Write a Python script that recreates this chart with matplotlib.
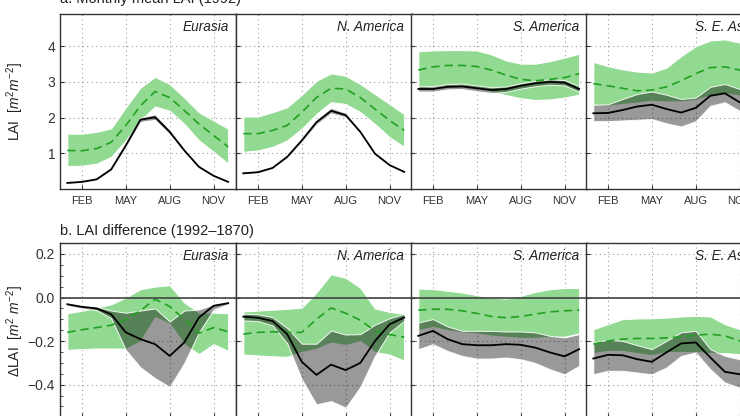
import matplotlib
matplotlib.use("Agg")
import matplotlib.pyplot as plt
import numpy as np

plt.rcParams['font.family'] = ['Liberation Sans', 'DejaVu Sans']
plt.rcParams['mathtext.fontset'] = 'custom'
plt.rcParams['mathtext.it'] = 'Liberation Sans:italic'
plt.rcParams['mathtext.rm'] = 'Liberation Sans'

months = [1, 2, 3, 4, 5, 6, 7, 8, 9, 10, 11, 12]
month_ticks = [2, 5, 8, 11]
month_labels = ["FEB", "MAY", "AUG", "NOV"]
regions = ["Eurasia", "N. America", "S. America", "S. E. Asia"]

# ---------- a. Monthly mean LAI (1992) ----------
a_eur_black = [0.17, 0.20, 0.27, 0.55, 1.22, 1.94, 2.01, 1.60, 1.08, 0.62, 0.37, 0.20]
a_eur_black_hi = [0.19, 0.22, 0.29, 0.58, 1.27, 2.00, 2.09, 1.67, 1.12, 0.65, 0.39, 0.22]
a_eur_black_lo = [0.15, 0.18, 0.25, 0.52, 1.17, 1.88, 1.94, 1.53, 1.04, 0.59, 0.35, 0.18]
a_eur_green = [1.08, 1.07, 1.13, 1.31, 1.78, 2.33, 2.73, 2.56, 2.20, 1.82, 1.50, 1.18]
a_eur_green_hi = [1.55, 1.55, 1.60, 1.70, 2.29, 2.84, 3.14, 2.94, 2.56, 2.15, 1.92, 1.69]
a_eur_green_lo = [0.64, 0.65, 0.71, 0.90, 1.36, 1.92, 2.31, 2.19, 1.82, 1.36, 1.04, 0.71]

a_nam_black = [0.44, 0.47, 0.59, 0.90, 1.36, 1.87, 2.19, 2.07, 1.60, 0.99, 0.67, 0.48]
a_nam_black_hi = [0.46, 0.49, 0.61, 0.93, 1.40, 1.93, 2.27, 2.13, 1.64, 1.02, 0.69, 0.50]
a_nam_black_lo = [0.42, 0.45, 0.57, 0.87, 1.32, 1.81, 2.12, 2.01, 1.56, 0.96, 0.65, 0.46]
a_nam_green = [1.55, 1.55, 1.64, 1.78, 2.15, 2.56, 2.82, 2.80, 2.56, 2.24, 1.92, 1.64]
a_nam_green_hi = [2.03, 2.03, 2.15, 2.29, 2.64, 3.03, 3.24, 3.17, 2.94, 2.66, 2.38, 2.10]
a_nam_green_lo = [1.04, 1.08, 1.18, 1.36, 1.69, 2.10, 2.43, 2.38, 2.15, 1.82, 1.45, 1.18]

a_sam_black = [2.80, 2.80, 2.86, 2.87, 2.82, 2.77, 2.80, 2.89, 2.96, 3.00, 2.98, 2.80]
a_sam_black_hi = [2.88, 2.88, 2.94, 2.95, 2.90, 2.85, 2.87, 2.96, 3.03, 3.07, 3.05, 2.88]
a_sam_black_lo = [2.73, 2.73, 2.79, 2.80, 2.74, 2.69, 2.72, 2.81, 2.88, 2.92, 2.90, 2.72]
a_sam_green = [3.33, 3.42, 3.46, 3.46, 3.43, 3.33, 3.19, 3.07, 3.03, 3.07, 3.12, 3.23]
a_sam_green_hi = [3.86, 3.88, 3.89, 3.89, 3.88, 3.77, 3.60, 3.51, 3.51, 3.58, 3.68, 3.79]
a_sam_green_lo = [2.82, 2.86, 2.89, 2.89, 2.82, 2.73, 2.63, 2.54, 2.49, 2.51, 2.56, 2.64]

a_sea_black = [2.12, 2.13, 2.21, 2.31, 2.36, 2.24, 2.14, 2.27, 2.61, 2.68, 2.43, 2.29]
a_sea_black_hi = [2.36, 2.37, 2.52, 2.66, 2.73, 2.64, 2.52, 2.56, 2.86, 2.94, 2.80, 2.70]
a_sea_black_lo = [1.90, 1.90, 1.92, 1.94, 1.96, 1.84, 1.75, 1.90, 2.33, 2.43, 2.19, 2.05]
a_sea_green = [2.95, 2.89, 2.82, 2.75, 2.77, 2.86, 3.03, 3.23, 3.40, 3.42, 3.33, 3.25]
a_sea_green_hi = [3.56, 3.44, 3.35, 3.29, 3.26, 3.40, 3.72, 4.00, 4.16, 4.19, 4.10, 3.98]
a_sea_green_lo = [2.36, 2.33, 2.38, 2.42, 2.47, 2.45, 2.45, 2.50, 2.62, 2.68, 2.62, 2.55]

# ---------- b. LAI difference (1992-1870) ----------
b_eur_black = [-0.031, -0.043, -0.050, -0.077, -0.160, -0.191, -0.214, -0.268, -0.206, -0.092, -0.038, -0.026]
b_eur_black_hi = [-0.025, -0.036, -0.042, -0.060, -0.070, -0.060, -0.050, -0.110, -0.060, -0.055, -0.032, -0.022]
b_eur_black_lo = [-0.037, -0.050, -0.058, -0.095, -0.240, -0.320, -0.370, -0.410, -0.300, -0.160, -0.055, -0.030]
b_eur_green = [-0.160, -0.148, -0.138, -0.127, -0.100, -0.060, -0.008, -0.041, -0.100, -0.164, -0.138, -0.157]
b_eur_green_hi = [-0.072, -0.061, -0.046, -0.031, 0.000, 0.038, 0.050, 0.057, -0.023, -0.069, -0.069, -0.072]
b_eur_green_lo = [-0.240, -0.237, -0.234, -0.234, -0.235, -0.200, -0.090, -0.120, -0.215, -0.260, -0.214, -0.245]

b_nam_black = [-0.088, -0.093, -0.108, -0.168, -0.295, -0.355, -0.308, -0.333, -0.300, -0.200, -0.123, -0.092]
b_nam_black_hi = [-0.074, -0.077, -0.090, -0.140, -0.212, -0.212, -0.152, -0.170, -0.168, -0.125, -0.095, -0.075]
b_nam_black_lo = [-0.105, -0.108, -0.128, -0.210, -0.375, -0.490, -0.475, -0.505, -0.410, -0.268, -0.160, -0.107]
b_nam_green = [-0.168, -0.160, -0.157, -0.160, -0.160, -0.100, -0.048, -0.072, -0.104, -0.153, -0.170, -0.182]
b_nam_green_hi = [-0.064, -0.060, -0.056, -0.052, -0.046, 0.023, 0.107, 0.090, 0.045, -0.050, -0.066, -0.075]
b_nam_green_lo = [-0.262, -0.266, -0.270, -0.272, -0.250, -0.235, -0.207, -0.218, -0.200, -0.250, -0.262, -0.290]

b_sam_black = [-0.176, -0.153, -0.191, -0.214, -0.219, -0.219, -0.214, -0.217, -0.230, -0.252, -0.270, -0.237]
b_sam_black_hi = [-0.115, -0.099, -0.133, -0.153, -0.153, -0.153, -0.156, -0.156, -0.160, -0.176, -0.183, -0.168]
b_sam_black_lo = [-0.237, -0.214, -0.245, -0.268, -0.280, -0.280, -0.275, -0.283, -0.300, -0.329, -0.352, -0.313]
b_sam_green = [-0.058, -0.054, -0.054, -0.061, -0.073, -0.087, -0.093, -0.087, -0.076, -0.066, -0.061, -0.058]
b_sam_green_hi = [0.041, 0.039, 0.031, 0.023, 0.011, 0.000, -0.005, 0.008, 0.026, 0.038, 0.044, 0.043]
b_sam_green_lo = [-0.150, -0.135, -0.150, -0.160, -0.165, -0.175, -0.180, -0.185, -0.185, -0.180, -0.180, -0.165]

b_sea_black = [-0.280, -0.263, -0.265, -0.283, -0.295, -0.252, -0.211, -0.206, -0.275, -0.341, -0.352, -0.360]
b_sea_black_hi = [-0.206, -0.194, -0.199, -0.219, -0.237, -0.199, -0.160, -0.153, -0.237, -0.268, -0.283, -0.290]
b_sea_black_lo = [-0.352, -0.336, -0.336, -0.344, -0.352, -0.321, -0.268, -0.252, -0.329, -0.390, -0.413, -0.420]
b_sea_green = [-0.214, -0.199, -0.191, -0.188, -0.188, -0.185, -0.180, -0.173, -0.168, -0.176, -0.199, -0.210]
b_sea_green_hi = [-0.145, -0.122, -0.099, -0.096, -0.095, -0.092, -0.087, -0.084, -0.087, -0.122, -0.145, -0.160]
b_sea_green_lo = [-0.255, -0.245, -0.245, -0.255, -0.265, -0.250, -0.250, -0.250, -0.255, -0.255, -0.260, -0.270]

panels_a = [
    (a_eur_black, a_eur_black_hi, a_eur_black_lo, a_eur_green, a_eur_green_hi, a_eur_green_lo),
    (a_nam_black, a_nam_black_hi, a_nam_black_lo, a_nam_green, a_nam_green_hi, a_nam_green_lo),
    (a_sam_black, a_sam_black_hi, a_sam_black_lo, a_sam_green, a_sam_green_hi, a_sam_green_lo),
    (a_sea_black, a_sea_black_hi, a_sea_black_lo, a_sea_green, a_sea_green_hi, a_sea_green_lo),
]
panels_b = [
    (b_eur_black, b_eur_black_hi, b_eur_black_lo, b_eur_green, b_eur_green_hi, b_eur_green_lo),
    (b_nam_black, b_nam_black_hi, b_nam_black_lo, b_nam_green, b_nam_green_hi, b_nam_green_lo),
    (b_sam_black, b_sam_black_hi, b_sam_black_lo, b_sam_green, b_sam_green_hi, b_sam_green_lo),
    (b_sea_black, b_sea_black_hi, b_sea_black_lo, b_sea_green, b_sea_green_hi, b_sea_green_lo),
]

W, H = 740, 416
fig = plt.figure(figsize=(W / 100, H / 100), dpi=100)

GREEN_FILL = '#92d992'
GREEN_LINE = '#22a022'
SPINE = '#333333'
GRID = '#9a9a9a'

col_left = [60, 236, 411, 586]
col_w = 175.5
rows = [(14, 189), (243, 417.4)]


def px_axes(x0, ytop, w, ybot):
    return [x0 / W, 1 - ybot / H, w / W, (ybot - ytop) / H]


def draw_panel(ax, data, row, col):
    blk, blk_hi, blk_lo, grn, grn_hi, grn_lo = data
    ax.fill_between(months, grn_lo, grn_hi, facecolor=GREEN_FILL,
                    edgecolor='white', linewidth=0.8, zorder=2)
    ax.fill_between(months, blk_lo, blk_hi, facecolor=(0, 0, 0, 0.4),
                    edgecolor=(1, 1, 1, 0.9), linewidth=0.7, zorder=3)
    ax.plot(months, grn, color=GREEN_LINE, lw=1.2, ls=(0, (5, 3)), zorder=4)
    ax.plot(months, blk, color='black', lw=1.3, zorder=5)
    ax.set_xlim(0.5, 12.5)
    ax.set_xticks(month_ticks)
    ax.grid(True, color=GRID, ls=(0, (1, 3)), lw=0.8, zorder=0)
    ax.set_axisbelow(True)
    for s in ax.spines.values():
        s.set_color(SPINE)
        s.set_linewidth(1.0)
        s.set_zorder(6)
    ax.tick_params(direction='in', colors=SPINE, labelcolor='#333333',
                   length=3, width=0.8)
    ax.tick_params(which='minor', direction='in', length=2, width=0.6,
                   colors=SPINE)
    if row == 0:
        ax.set_ylim(0, 4.9)
        ax.set_yticks([1, 2, 3, 4])
        ax.set_xticklabels(month_labels, fontsize=8)
        ax.tick_params(axis='x', pad=5)
    else:
        ax.set_ylim(-0.55, 0.25)
        ax.set_yticks([-0.4, -0.2, 0.0, 0.2])
        if col == 0:
            ax.set_yticks(np.arange(-0.55, 0.26, 0.05), minor=True)
        ax.tick_params(axis='x', labelbottom=False)
        ax.axhline(0, color='#444444', lw=1.2, zorder=6)
    if col == 0:
        if row == 0:
            ax.set_yticklabels(['1', '2', '3', '4'], fontsize=10)
        else:
            ax.set_yticklabels(['\u22120.4', '\u22120.2', '0.0', '0.2'], fontsize=10)
    else:
        ax.tick_params(axis='y', labelleft=False)
    ax.text(0.96, 0.965, regions[col], transform=ax.transAxes, ha='right',
            va='top', fontsize=9.8, style='italic', color='#222222', zorder=7)


for r, (ytop, ybot) in enumerate(rows):
    data_row = panels_a if r == 0 else panels_b
    for c in range(4):
        ax = fig.add_axes(px_axes(col_left[c], ytop, col_w, ybot))
        draw_panel(ax, data_row[c], r, c)

fig.text(60 / W, 1 - 6.5 / H, "a. Monthly mean LAI (1992)", fontsize=10.5,
         ha='left', va='bottom', color='#222222')
fig.text(60 / W, 1 - 238 / H, "b. LAI difference (1992\u20131870)", fontsize=10.5,
         ha='left', va='bottom', color='#222222')
fig.text(15 / W, 1 - 101.5 / H, r"LAI  [$m^2 m^{-2}$]", rotation=90,
         ha='center', va='center', fontsize=10, color='#222222')
fig.text(15 / W, 1 - 331 / H, r"$\Delta$LAI  [$m^2$ $m^{-2}$]", rotation=90,
         ha='center', va='center', fontsize=10, color='#222222')

fig.savefig("out.png", dpi=100)
